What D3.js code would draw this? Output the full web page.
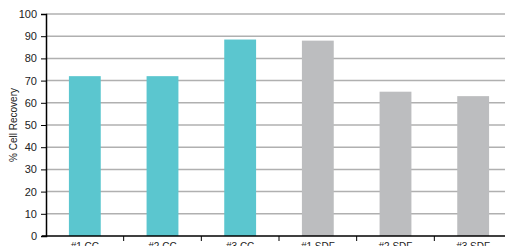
<!DOCTYPE html>
<html>
<head>
<meta charset="utf-8">
<script src="https://cdn.jsdelivr.net/npm/d3@7"></script>
<style>
  body { margin: 0; background: #fff; }
  svg { display: block; font-family: "Liberation Sans", Arial, sans-serif; }
</style>
</head>
<body>
<div id="plot"></div>
<script>
var categories = ['#1 CC', '#2 CC', '#3 CC', '#1 SDF', '#2 SDF', '#3 SDF'];
var recovery = [72, 72, 88.5, 88, 65, 63];
var groups = ['CC', 'CC', 'CC', 'SDF', 'SDF', 'SDF'];
var yTicks = [0, 10, 20, 30, 40, 50, 60, 70, 80, 90, 100];

var width = 505, height = 246;
var svg = d3.select('#plot')
    .append('svg')
    .attr('width', width)
    .attr('height', height);

var x = d3.scaleBand()
    .domain(categories)
    .range([46, 512])
    .paddingInner(0.59)
    .paddingOuter(0.295);

var y = d3.scaleLinear()
    .domain([0, 100])
    .range([236, 14]);

var color = d3.scaleOrdinal()
    .domain(['CC', 'SDF'])
    .range(['#5bc6cf', '#bcbdbf']);

// gridlines
svg.append('g')
    .selectAll('line')
    .data(yTicks.slice(1))
    .join('line')
    .attr('x1', 46)
    .attr('x2', width)
    .attr('y1', function (d) { return y(d); })
    .attr('y2', function (d) { return y(d); })
    .attr('stroke', '#b0b0b0')
    .attr('stroke-width', 1.5);

// bars
svg.append('g')
    .selectAll('rect')
    .data(categories)
    .join('rect')
    .attr('x', function (d) { return x(d); })
    .attr('width', x.bandwidth())
    .attr('y', function (d, i) { return y(recovery[i]); })
    .attr('height', function (d, i) { return y(0) - y(recovery[i]); })
    .attr('fill', function (d, i) { return color(groups[i]); });

// y axis
var yAxis = svg.append('g')
    .attr('transform', 'translate(46,0)')
    .call(d3.axisLeft(y).tickValues(yTicks).tickSize(5).tickPadding(4));
yAxis.select('.domain').attr('stroke', '#000').attr('stroke-width', 1.5);
yAxis.selectAll('.tick line').attr('stroke', '#000');
yAxis.selectAll('text').attr('font-size', 11).attr('fill', '#222');

// x axis with ticks at band boundaries
var step = x.step();
var boundaries = categories.map(function (d) { return x(d) - (step - x.bandwidth()) / 2; }).slice(1);
svg.append('line')
    .attr('x1', 42)
    .attr('x2', width)
    .attr('y1', y(0))
    .attr('y2', y(0))
    .attr('stroke', '#000')
    .attr('stroke-width', 1.5);
svg.append('g')
    .selectAll('line')
    .data(boundaries)
    .join('line')
    .attr('x1', function (d) { return d; })
    .attr('x2', function (d) { return d; })
    .attr('y1', y(0))
    .attr('y2', y(0) + 5)
    .attr('stroke', '#000');
svg.append('g')
    .selectAll('text')
    .data(categories)
    .join('text')
    .attr('x', function (d) { return x(d) + x.bandwidth() / 2; })
    .attr('y', 250)
    .attr('text-anchor', 'middle')
    .attr('font-size', 10)
    .attr('fill', '#222')
    .text(function (d) { return d; });

// y label
svg.append('text')
    .attr('transform', 'translate(17,125) rotate(-90)')
    .attr('text-anchor', 'middle')
    .attr('font-size', 10)
    .attr('fill', '#222')
    .text('% Cell Recovery');
</script>
</body>
</html>
